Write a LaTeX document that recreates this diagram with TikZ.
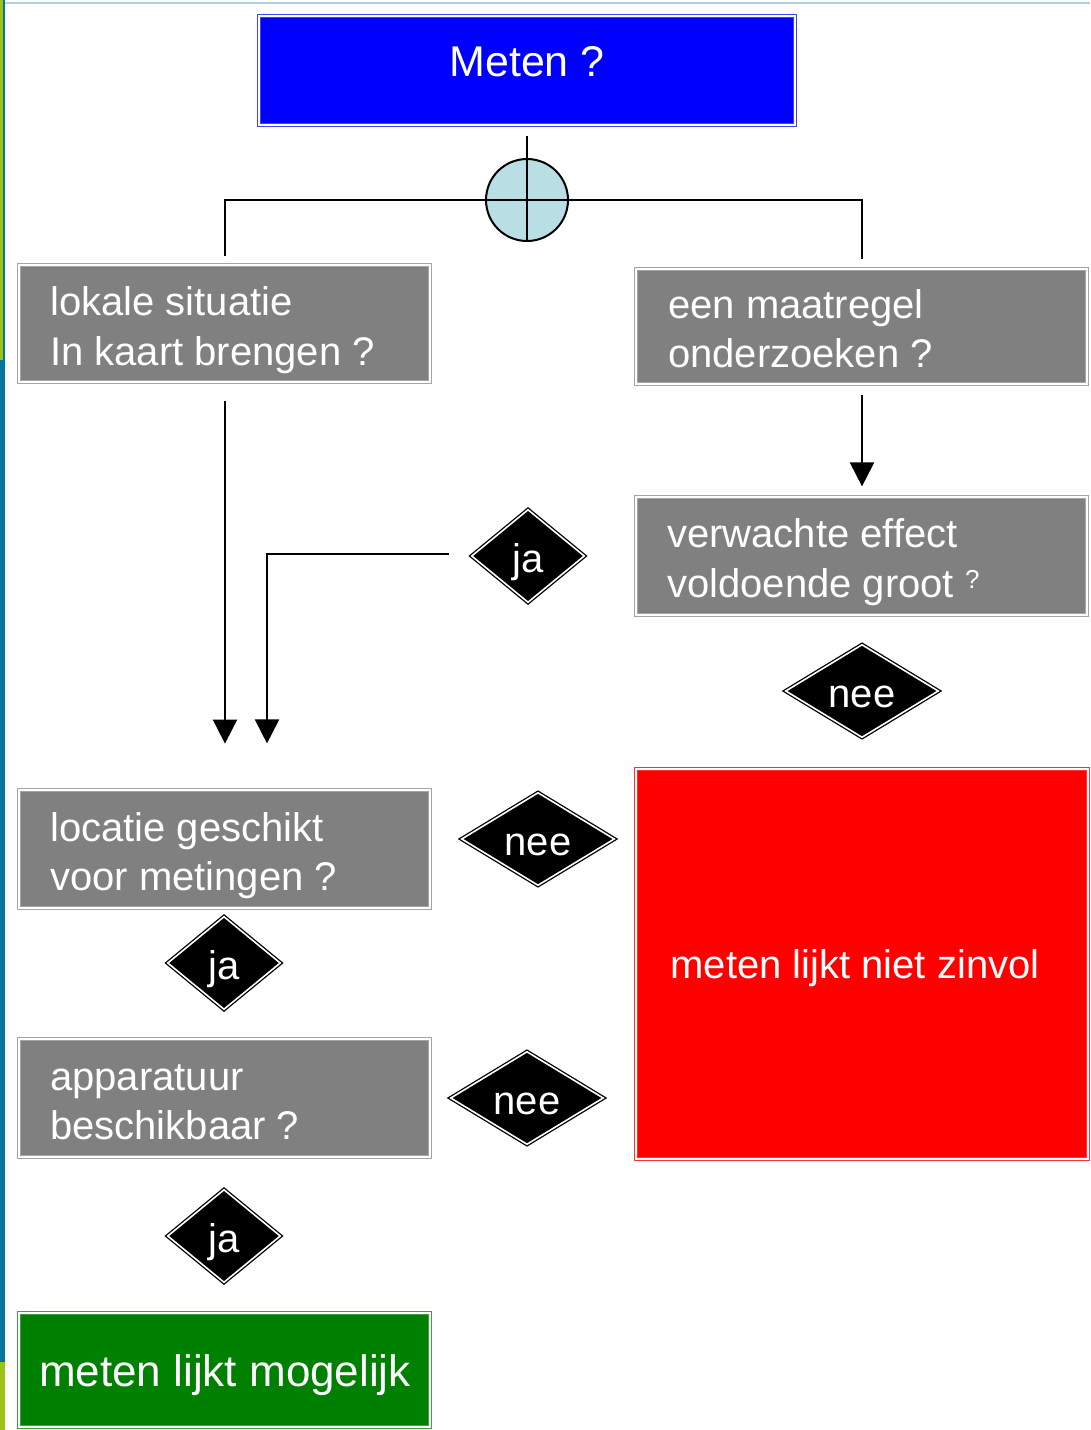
\documentclass[tikz,border=0pt]{standalone}
\usepackage{fontspec}
\setmainfont{Liberation Sans}
\usetikzlibrary{arrows.meta,shapes.geometric,calc}
\definecolor{boxgray}{RGB}{128,128,128}
\definecolor{boxedge}{RGB}{165,165,165}
\definecolor{mblue}{RGB}{0,0,255}
\definecolor{mred}{RGB}{255,0,0}
\definecolor{mgreen}{RGB}{0,128,0}
\definecolor{juncfill}{RGB}{185,223,228}
\definecolor{stripgreen}{RGB}{157,193,20}
\definecolor{stripblue}{RGB}{0,118,158}
\definecolor{topline}{RGB}{180,208,220}
\begin{document}
\begin{tikzpicture}[x=1pt,y=-1pt,
  frame/.style={rectangle, inner sep=0pt, line width=1.2pt, double=white, double distance=2pt},
  greybox/.style={frame, fill=boxgray, draw=boxedge},
  bluebox/.style={frame, fill=mblue, draw=mblue!75!white},
  redbox/.style={frame, fill=mred, draw=mred!80!white},
  greenbox/.style={frame, fill=mgreen, draw=mgreen!75!white},
  txt/.style={text=white, inner sep=0pt, font=\fontsize{40}{48}\selectfont},
  dec/.style={diamond, fill=black, draw=black, line width=1.3pt, double=white, double distance=1.6pt, inner sep=0pt, text=white, text height=33pt, text depth=0pt, font=\fontsize{40}{48}\selectfont},
  line/.style={draw=black, line width=2pt},
  arr/.style={line, -{Triangle[width=24pt,length=24pt]}}
]
\useasboundingbox (0,0) rectangle (1090,1430);
\fill[white] (0,0) rectangle (1090,1430);
% left strips and top line
\fill[stripgreen] (0,0) rectangle (3,360);
\fill[stripblue] (3,0) rectangle (5,360);
\fill[stripblue] (0,360) rectangle (5,1362);
\fill[stripgreen] (0,1362) rectangle (5,1430);
\draw[topline, line width=1.5pt] (5,3) -- (1090,3);

% boxes
\node[bluebox, minimum width=536, minimum height=109] (meten) at (527,70.5) {};
\node[greybox, minimum width=411, minimum height=117] (lok) at (224.5,323.5) {};
\node[greybox, minimum width=451, minimum height=115] (maat) at (861.5,326.5) {};
\node[greybox, minimum width=451, minimum height=118] (verw) at (861.5,556) {};
\node[greybox, minimum width=411, minimum height=118] (loc) at (224.5,849) {};
\node[greybox, minimum width=411, minimum height=118] (app) at (224.5,1098) {};
\node[greenbox, minimum width=411, minimum height=114] (ok) at (224.5,1370) {};
\node[redbox, minimum width=452, minimum height=390] (nok) at (862,964) {};

% texts
\node[txt, font=\fontsize{43}{50}\selectfont, anchor=base] (metenT) at (527,76) {Meten ?};
\node[txt, anchor=base west] (lokA) at (50,315) {lokale situatie};
\node[txt, anchor=base west] (lokB) at (50,365) {In kaart brengen ?};
\node[txt, anchor=base west] (maatA) at (668,318) {een maatregel};
\node[txt, anchor=base west] (maatB) at (668,367) {onderzoeken ?};
\node[txt, anchor=base west] (verwA) at (667,547) {verwachte effect};
\node[txt, anchor=base west] (verwB) at (667,597) {voldoende groot \raisebox{9pt}{\fontsize{26}{26}\selectfont ?}};
\node[txt, anchor=base west] (locA) at (50,841) {locatie geschikt};
\node[txt, anchor=base west] (locB) at (50,890) {voor metingen ?};
\node[txt, anchor=base west] (appA) at (50,1090) {apparatuur};
\node[txt, anchor=base west] (appB) at (50,1139) {beschikbaar ?};
\node[txt, font=\fontsize{44}{50}\selectfont, anchor=base] (okT) at (225,1386) {meten lijkt mogelijk};
\node[txt, anchor=base] (nokT) at (855,978) {meten lijkt niet zinvol};

% decisions
\node[dec, aspect=1.2, minimum width=113, minimum height=93] (ja1) at (528,556) {ja};
\node[dec, aspect=1.6, minimum width=153, minimum height=93] (nee1) at (862,691) {nee};
\node[dec, aspect=1.6, minimum width=153, minimum height=93] (nee2) at (538,839) {nee};
\node[dec, aspect=1.2, minimum width=113, minimum height=93] (ja2) at (224,963) {ja};
\node[dec, aspect=1.6, minimum width=153, minimum height=93] (nee3) at (527,1098) {nee};
\node[dec, aspect=1.2, minimum width=113, minimum height=93] (ja3) at (224,1236) {ja};

% junction
\node[circle, minimum size=82, inner sep=0pt, fill=juncfill, draw=black, line width=2pt] (junc) at (527,200) {};

% connectors
\draw[line] ($(meten.south)+(0,10)$) -- (junc.south);
\draw[line] ($(lok.north)+(0.5,-8)$) |- (junc.center) -| ($(maat.north)+(0.5,-9)$);
\draw[arr] ($(lok.south)+(0.5,18)$) -- ++(0,343);
\draw[arr] ($(ja1.west)+(-22,-2)$) -| ($(loc.north)+(42.5,-46)$);
\draw[arr] ($(maat.south)+(0.5,10)$) -- ($(verw.north)+(0.5,-10)$);
\end{tikzpicture}
\end{document}
